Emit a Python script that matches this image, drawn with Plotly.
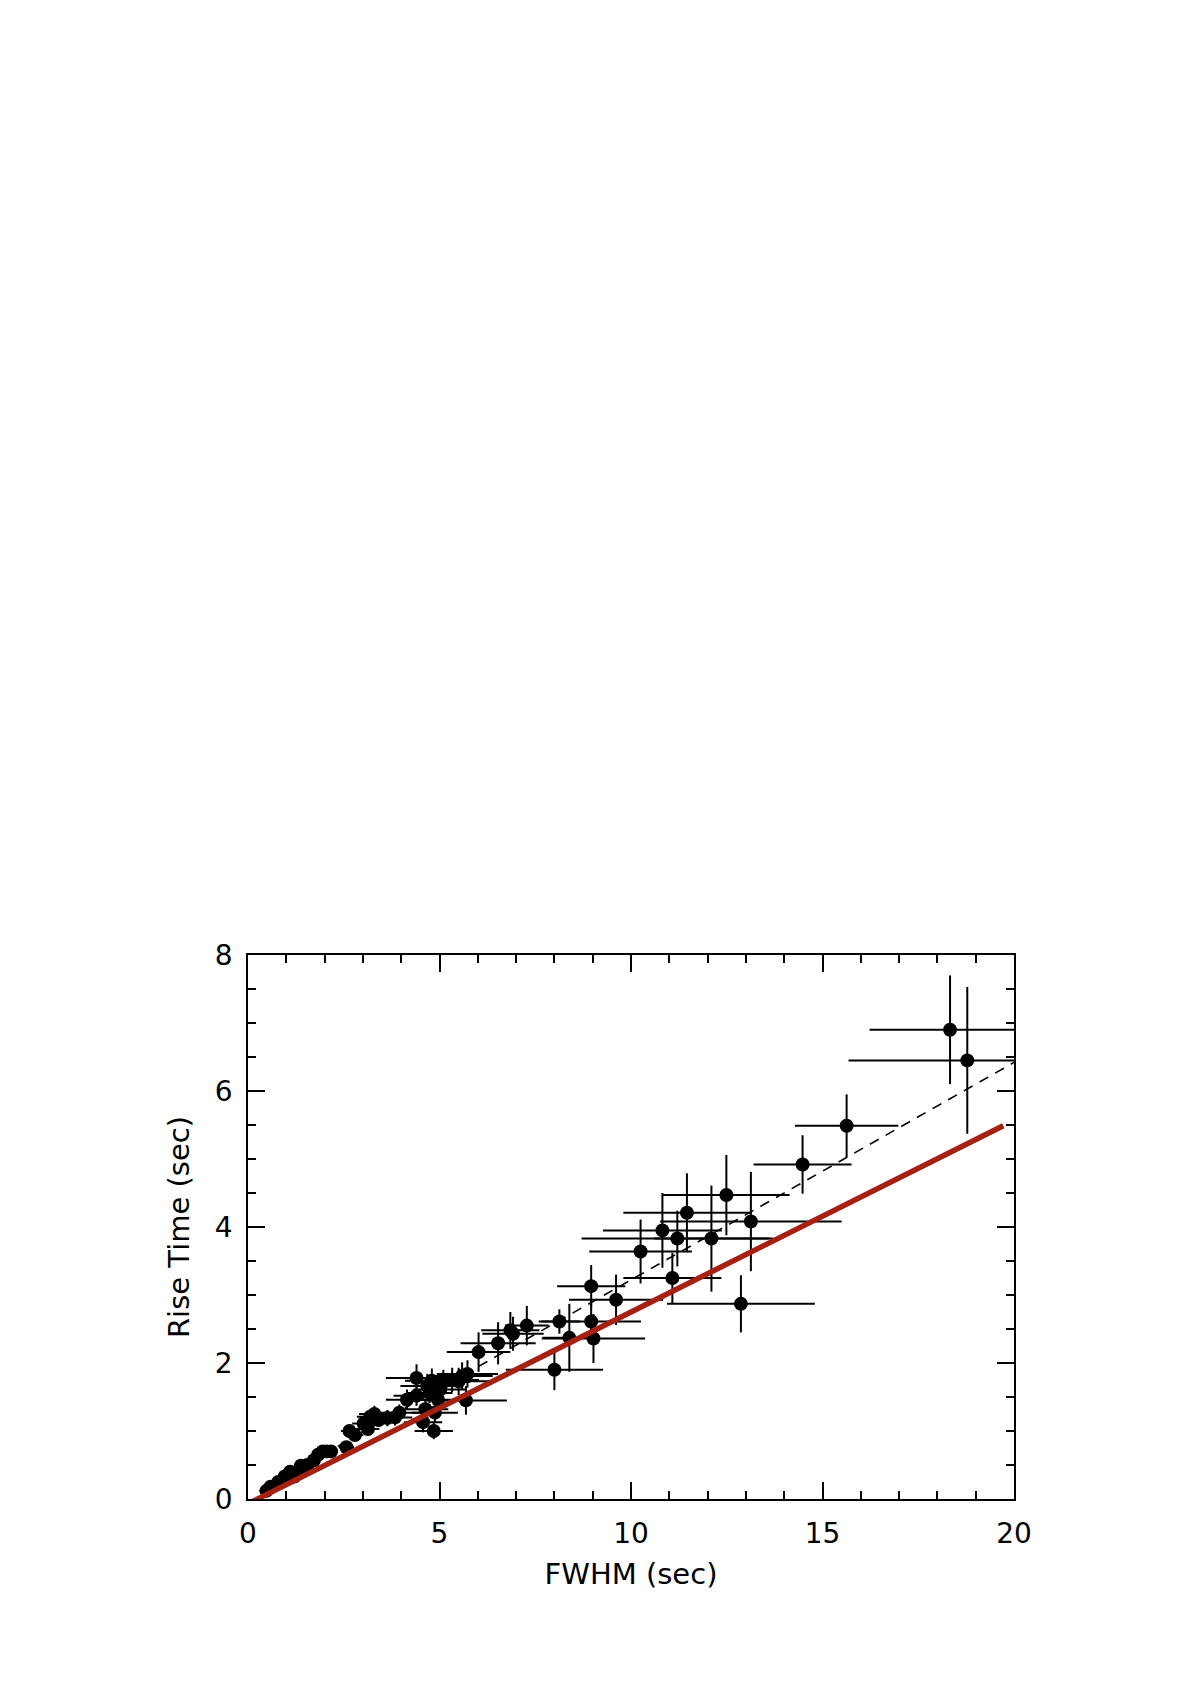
import plotly.graph_objects as go

# FWHM vs rise time, estimated from the figure
fwhm = [0.48, 0.59, 0.79, 0.96, 1.10, 1.21, 1.38, 1.45, 1.55, 1.72,
        1.83, 1.95, 2.06, 2.17, 2.57, 2.65, 2.79, 3.02, 3.13, 3.19,
        3.30, 3.41, 3.64, 3.84, 3.95, 4.15, 4.40, 4.40, 4.57, 4.63,
        4.68, 4.74, 4.80, 4.85, 4.88, 4.96, 5.02, 5.10, 5.33, 5.50,
        5.59, 5.69, 5.73, 6.02, 6.53, 6.85, 6.92, 7.28, 8.00, 8.13,
        8.39, 8.96, 8.96, 9.02, 9.61, 10.25, 10.82, 11.08, 11.21, 11.46,
        12.10, 12.49, 12.87, 13.13, 14.48, 15.63, 18.33, 18.78]
rise = [0.12, 0.18, 0.25, 0.33, 0.40, 0.33, 0.49, 0.43, 0.50, 0.57,
        0.65, 0.70, 0.70, 0.70, 0.76, 1.00, 0.94, 1.11, 1.03, 1.21,
        1.25, 1.16, 1.19, 1.20, 1.27, 1.46, 1.78, 1.52, 1.13, 1.32,
        1.66, 1.56, 1.74, 1.00, 1.27, 1.46, 1.61, 1.72, 1.75, 1.73,
        1.81, 1.45, 1.84, 2.16, 2.29, 2.48, 2.43, 2.55, 1.90, 2.61,
        2.37, 3.13, 2.61, 2.36, 2.93, 3.64, 3.95, 3.25, 3.83, 4.21,
        3.83, 4.47, 2.87, 4.08, 4.92, 5.49, 6.90, 6.45]
fwhm_err = [0.05, 0.05, 0.06, 0.08, 0.08, 0.09, 0.10, 0.10, 0.12, 0.12,
            0.14, 0.15, 0.15, 0.18, 0.20, 0.22, 0.22, 0.30, 0.30, 0.35,
            0.40, 0.40, 0.40, 0.45, 0.50, 0.55, 0.80, 0.60, 0.50, 0.60,
            0.70, 0.60, 0.70, 0.50, 0.60, 0.60, 0.70, 0.70, 0.70, 0.80,
            0.80, 1.07, 0.80, 0.83, 0.98, 0.76, 0.80, 0.57, 1.27, 0.54,
            0.70, 0.89, 1.30, 1.35, 1.23, 1.34, 1.55, 1.28, 2.50, 1.66,
            1.50, 1.65, 1.93, 2.37, 1.28, 1.35, 2.10, 3.10]
rise_err = [0.03, 0.03, 0.04, 0.04, 0.05, 0.05, 0.06, 0.05, 0.06, 0.07,
            0.07, 0.08, 0.08, 0.08, 0.08, 0.09, 0.09, 0.10, 0.10, 0.10,
            0.12, 0.10, 0.12, 0.12, 0.12, 0.15, 0.20, 0.15, 0.15, 0.15,
            0.18, 0.15, 0.18, 0.12, 0.15, 0.15, 0.18, 0.18, 0.18, 0.20,
            0.20, 0.21, 0.20, 0.29, 0.31, 0.27, 0.25, 0.29, 0.30, 0.18,
            0.50, 0.31, 0.30, 0.36, 0.37, 0.47, 0.55, 0.37, 0.41, 0.58,
            0.78, 0.59, 0.42, 0.73, 0.43, 0.46, 0.80, 1.08]

# fitted lines (end points)
dash_x = [0.3, 20.0]
dash_y = [0.12, 6.42]
red_x = [0.0, 19.72]
red_y = [-0.07, 5.49]

font = "DejaVu Sans"

fig = go.Figure()

fig.add_trace(go.Scatter(
    x=fwhm, y=rise, mode="markers",
    marker=dict(color="black", size=14),
    error_x=dict(type="data", array=fwhm_err, color="black", thickness=2, width=0),
    error_y=dict(type="data", array=rise_err, color="black", thickness=2, width=0),
))

fig.add_trace(go.Scatter(x=dash_x, y=dash_y, mode="lines",
                         line=dict(color="black", width=1.6, dash="10px,8px")))

fig.add_trace(go.Scatter(x=red_x, y=red_y, mode="lines",
                         line=dict(color="#A82010", width=5.5)))

axis_common = dict(
    showline=True, linecolor="black", linewidth=1.8, mirror="allticks",
    ticks="inside", tickcolor="black", tickwidth=1.5, ticklen=17,
    showgrid=False, zeroline=False,
    tickfont=dict(family=font, size=28, color="black"),
)

fig.update_xaxes(range=[0, 20], tickvals=[0, 5, 10, 15, 20], ticklabelstandoff=8,
                 minor=dict(dtick=1, ticks="inside", ticklen=8, tickcolor="black", tickwidth=1.5),
                 title=dict(text="FWHM (sec)", font=dict(family=font, size=29, color="black"), standoff=15),
                 **axis_common)
fig.update_yaxes(range=[0, 8], tickvals=[0, 2, 4, 6, 8], ticklabelstandoff=8,
                 minor=dict(dtick=0.5, ticks="inside", ticklen=8, tickcolor="black", tickwidth=1.5),
                 title=dict(text="Rise Time (sec)", font=dict(family=font, size=29, color="black"), standoff=17),
                 **axis_common)

fig.update_layout(
    width=1199, height=1696,
    margin=dict(l=240, r=193, t=947, b=205),
    plot_bgcolor="white", paper_bgcolor="white",
    showlegend=False,
)

fig.write_html("out.html")
